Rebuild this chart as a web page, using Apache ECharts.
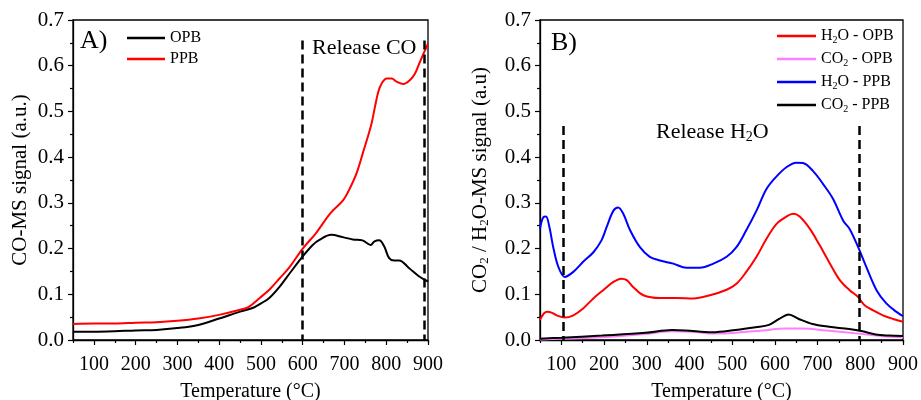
<!DOCTYPE html>
<html><head><meta charset="utf-8">
<script src="https://cdn.jsdelivr.net/npm/echarts@6/dist/echarts.min.js"></script>
<style>html,body{margin:0;padding:0;background:#fff}#c{width:921px;height:400px}</style>
</head><body><div id="c"></div>
<script>
// ---- Panel A: CO-MS signal ----
const opbT = [50,100,150,200,250,300,350,400,450,480,500,520,545,569,600,624,640,668,696,720,743,763,771,783,795,807,819,831,855,879,900];
const opbV = [0.018,0.018,0.019,0.021,0.022,0.026,0.033,0.047,0.062,0.07,0.08,0.092,0.117,0.146,0.183,0.208,0.219,0.23,0.225,0.22,0.218,0.208,0.215,0.218,0.205,0.179,0.174,0.174,0.157,0.139,0.128];
const ppbT = [50,100,150,200,250,300,350,400,450,470,497,520,545,569,600,632,666,697,713,729,745,757,765,773,781,789,801,813,825,841,857,869,881,893,900];
const ppbV = [0.035,0.036,0.036,0.038,0.039,0.042,0.047,0.055,0.066,0.072,0.092,0.11,0.135,0.16,0.2,0.234,0.277,0.306,0.332,0.365,0.412,0.448,0.474,0.51,0.543,0.561,0.572,0.572,0.565,0.56,0.569,0.583,0.609,0.634,0.648];
const dashA = [600, 890];
const dashATop = 0.655;

// ---- Panel B: CO2 / H2O-MS signal ----
const h2oPpbT = [50,58,64,72,81,93,108,128,151,175,194,206,222,233,245,261,284,307,331,362,393,424,456,487,510,533,557,580,604,627,650,666,689,713,736,760,775,795,814,838,861,884,900];
const h2oPpbV = [0.243,0.269,0.27,0.247,0.203,0.16,0.138,0.149,0.171,0.192,0.218,0.247,0.283,0.29,0.276,0.24,0.203,0.182,0.174,0.167,0.158,0.158,0.167,0.182,0.203,0.24,0.283,0.33,0.358,0.378,0.388,0.387,0.37,0.341,0.309,0.261,0.243,0.203,0.16,0.109,0.08,0.062,0.052];
const h2oOpbT = [50,59,67,77,89,108,128,151,175,198,222,241,253,268,292,331,370,409,448,487,510,533,557,580,604,627,643,658,682,705,729,752,775,795,810,830,853,877,900];
const h2oOpbV = [0.044,0.058,0.062,0.06,0.054,0.049,0.054,0.069,0.091,0.109,0.127,0.134,0.131,0.116,0.098,0.092,0.092,0.091,0.098,0.11,0.123,0.149,0.182,0.221,0.254,0.27,0.276,0.27,0.243,0.207,0.167,0.131,0.109,0.094,0.076,0.065,0.054,0.046,0.04];
const co2PpbT = [50,100,195,297,359,391,453,508,555,586,610,632,656,688,727,774,805,836,867,900];
const co2PpbV = [0.003,0.005,0.0098,0.0157,0.022,0.021,0.017,0.022,0.028,0.033,0.046,0.056,0.046,0.035,0.029,0.024,0.019,0.012,0.0098,0.009];
const co2OpbT = [50,100,195,297,359,420,453,508,571,626,664,727,790,852,900];
const co2OpbV = [0.001,0.003,0.006,0.013,0.019,0.017,0.014,0.016,0.021,0.025,0.025,0.02,0.0145,0.0083,0.006];
const dashB = [105, 797];
const dashBTop = 0.468;

const xMajor = [100,200,300,400,500,600,700,800,900];
const FONT = 'Liberation Serif';

const pairs = (t, v) => t.map((x, i) => [x, v[i]]);
const sub = s => s.replace(/([A-Z])2/g, '$1{s|2}');
const richSub = (size, pad) => ({ s: { fontFamily: FONT, fontSize: size, padding: [pad, 0, 0, 0], color: '#000' } });

function xAxes(gi) {
  return [{
    gridIndex: gi, type: 'value', min: 50, max: 900,
    name: 'Temperature (°C)', nameLocation: 'middle', nameGap: 42,
    nameTextStyle: { fontFamily: FONT, fontSize: 20, color: '#000' },
    axisLine: { show: true, onZero: false, lineStyle: { color: '#000', width: 1.3 } },
    axisTick: { show: true, length: 5, customValues: xMajor, lineStyle: { color: '#000', width: 1.2 } },
    axisLabel: { customValues: xMajor, fontFamily: FONT, fontSize: 20, color: '#000', margin: 15 },
    splitLine: { show: false }
  }, {
    gridIndex: gi, type: 'value', min: 50, max: 900, interval: 100, position: 'bottom',
    axisLine: { show: false }, axisLabel: { show: false },
    axisTick: { show: true, length: 3, lineStyle: { color: '#000', width: 1.2 } },
    splitLine: { show: false }
  }];
}
function yAxis(gi, name, gap) {
  return {
    gridIndex: gi, type: 'value', min: 0, max: 0.7, interval: 0.1,
    name: name, nameLocation: 'middle', nameGap: gap,
    nameTextStyle: { fontFamily: FONT, fontSize: 21, color: '#000', rich: richSub(13, 9) },
    axisLine: { show: true, lineStyle: { color: '#000', width: 1.3 } },
    axisTick: { show: true, length: 5, lineStyle: { color: '#000', width: 1.2 } },
    minorTick: { show: true, splitNumber: 2, length: 3, lineStyle: { color: '#000', width: 1.2 } },
    axisLabel: { fontFamily: FONT, fontSize: 21, color: '#000', margin: 9, formatter: v => v.toFixed(1) },
    splitLine: { show: false }
  };
}
function dashLines(xs, top) {
  return {
    silent: true, symbol: 'none', label: { show: false },
    lineStyle: { color: '#000', type: [9, 5], width: 2.5 },
    data: xs.map(x => [{ coord: [x, top] }, { coord: [x, 0] }])
  };
}
function line(name, xi, yi, t, v, color, extra) {
  return Object.assign({
    name, type: 'line', xAxisIndex: xi, yAxisIndex: yi, data: pairs(t, v),
    symbol: 'none', smooth: 0.35, animation: false,
    lineStyle: { color, width: 2 }, itemStyle: { color }
  }, extra || {});
}

const chart = echarts.init(document.getElementById('c'), null, { renderer: 'canvas' });
chart.setOption({
  backgroundColor: '#fff',
  animation: false,
  grid: [
    { left: 73, right: 493, top: 20, bottom: 60, show: true, borderColor: '#000', borderWidth: 1.3, outerBoundsMode: 'none', containLabel: false },
    { left: 540, right: 18, top: 20, bottom: 60, show: true, borderColor: '#000', borderWidth: 1.3, outerBoundsMode: 'none', containLabel: false }
  ],
  xAxis: [...xAxes(0), ...xAxes(1)],
  yAxis: [
    yAxis(0, 'CO-MS signal (a.u.)', 42),
    yAxis(1, 'CO{s|2} / H{s|2}O-MS signal (a.u)', 49)
  ],
  legend: [
    {
      id: 'legA', show: true,
      data: ['OPB', 'PPB'], orient: 'vertical', left: 122, top: 25,
      icon: 'rect', itemWidth: 38, itemHeight: 2.5, itemGap: 5,
      textStyle: { fontFamily: FONT, fontSize: 16, color: '#000' }
    },
    {
      id: 'legB', show: true,
      data: ['H2O - OPB', 'CO2 - OPB', 'H2O - PPB', 'CO2 - PPB'], orient: 'vertical', left: 772, top: 23,
      icon: 'rect', itemWidth: 39, itemHeight: 2.5, itemGap: 6,
      formatter: n => sub(n),
      textStyle: { fontFamily: FONT, fontSize: 16, color: '#000', rich: richSub(10, 8) }
    }
  ],
  graphic: [
    { type: 'text', left: 80, top: 28, style: { text: 'A)', font: '26px "Liberation Serif"', fill: '#000' } },
    { type: 'text', left: 312, top: 37, style: { text: 'Release CO', font: '22px "Liberation Serif"', fill: '#000' } },
    { type: 'text', left: 551, top: 30, style: { text: 'B)', font: '26px "Liberation Serif"', fill: '#000' } },
    { type: 'text', left: 656, top: 121, style: { text: 'Release H{s|2}O', font: '22px "Liberation Serif"', fill: '#000', rich: { s: { font: '14px "Liberation Serif"', padding: [10, 0, 0, 0], fill: '#000' } } } }
  ],
  series: [
    line('OPB', 0, 0, opbT, opbV, '#000000', { markLine: dashLines(dashA, dashATop) }),
    line('PPB', 0, 0, ppbT, ppbV, '#ff0000'),
    line('H2O - OPB', 2, 1, h2oOpbT, h2oOpbV, '#ff0000', { markLine: dashLines(dashB, dashBTop) }),
    line('CO2 - OPB', 2, 1, co2OpbT, co2OpbV, '#ff80ff'),
    line('H2O - PPB', 2, 1, h2oPpbT, h2oPpbV, '#0000ff'),
    line('CO2 - PPB', 2, 1, co2PpbT, co2PpbV, '#000000')
  ]
});
</script>
</body></html>
